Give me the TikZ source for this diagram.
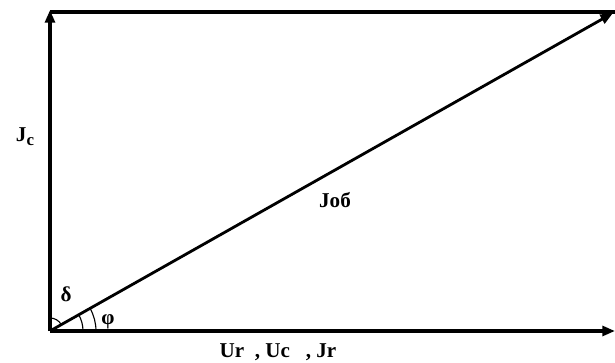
\documentclass[tikz,border=0pt]{standalone}
\usepackage{fontspec}
\setmainfont{Liberation Serif}
\usetikzlibrary{arrows.meta}

\begin{document}
\begin{tikzpicture}[x=0.025cm, y=0.025cm,
  vec/.style={black, line width=2.4pt, -{Triangle[length=9pt, width=7pt]}},
  lbl/.style={font=\fontsize{15}{17}\selectfont\bfseries, inner sep=0pt}]

  \useasboundingbox (0, 0) rectangle (615, 362);

% POINTS
  \coordinate (O)  at ( 50,  31);
  \coordinate (Ic) at ( 50, 352);
  \coordinate (Ir) at (615,  31);
  \coordinate (Io) at (613, 349);
  \coordinate (T)  at (615, 350);

% TOP LINE
  \draw[black, line width=2.4pt] (50, 350) -- (T);

% VECTORS
  \draw[vec] (O) -- (Ic);
  \draw[vec] (O) -- (Ir);
  \draw[vec, line width=2pt] (O) -- (Io);

% ANGLES
  \def\ang{29.4}
  \draw[black, thick] (O) ++(90:13) arc[start angle=90, end angle=\ang, radius=13];
  \draw[black, thick] (O) ++(0:33) arc[start angle=0, end angle=\ang, radius=33];
  \draw[black, thick] (O) ++(0:46) arc[start angle=0, end angle=\ang, radius=46];

% LABELS
  \node[lbl] (jc)   at ( 25, 225) {J\raisebox{-3pt}{\fontsize{12}{14}\selectfont c}};
  \node[lbl] (job)  at (335, 162) {Joб};
  \node[lbl] (dlt)  at ( 66,  68) {δ};
  \node[lbl] (phi)  at (108,  40) {φ};
  \node[lbl] (axis) at (278,  10) {Ur~~,~Uc~~~,~Jr};

\end{tikzpicture}
\end{document}
